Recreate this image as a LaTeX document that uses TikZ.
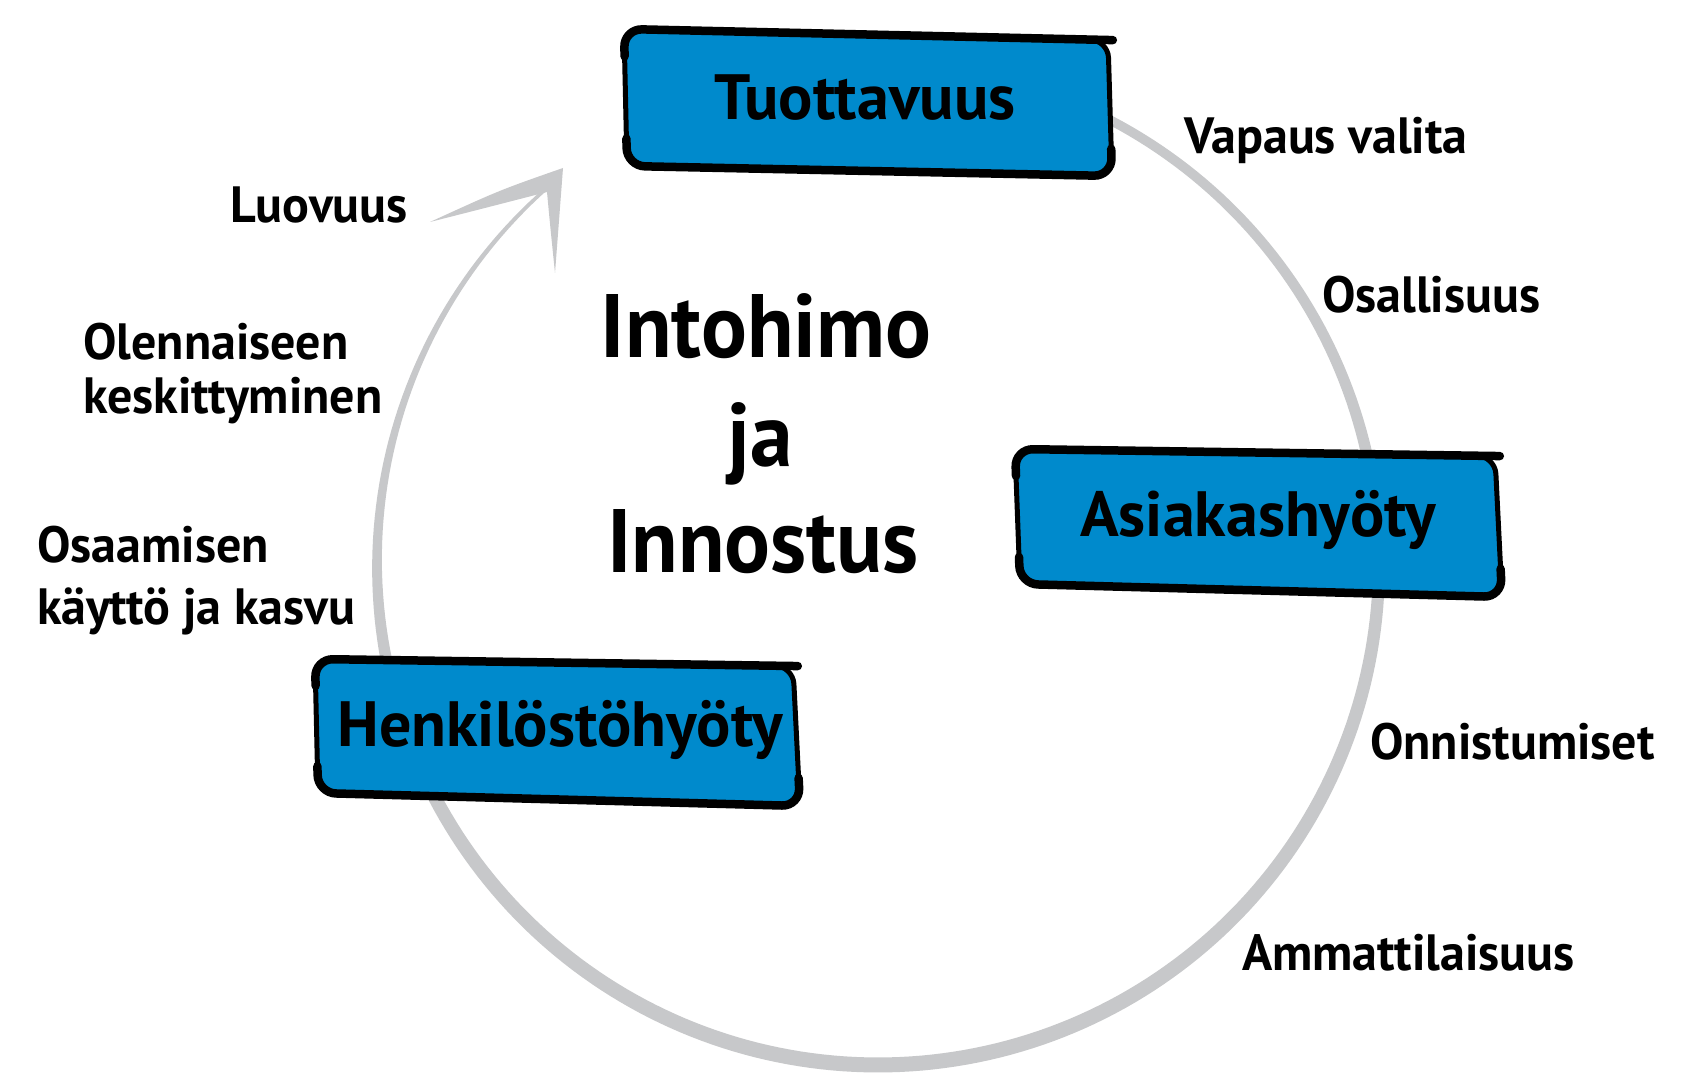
\documentclass[tikz,border=0pt]{standalone}
\usepackage{fontspec}
\newfontfamily\lab{PT Sans}[FakeStretch=0.98]
\newfontfamily\labbox{PT Sans}[FakeStretch=1.0]
\newfontfamily\labbig{PT Sans}[FakeStretch=0.95]
\usetikzlibrary{calc}
\definecolor{boxblue}{RGB}{0,138,204}
\definecolor{ringgray}{RGB}{199,200,202}
\tikzset{
  lbl/.style={font=\lab\bfseries\fontsize{51}{51}\selectfont, inner sep=0pt, anchor=base west},
  boxtxt/.style={font=\labbox\bfseries\fontsize{64}{64}\selectfont, inner sep=0pt, anchor=base},
  bigtxt/.style={font=\labbig\bfseries\fontsize{90}{90}\selectfont, inner sep=0pt, anchor=base},
  boxbody/.style={fill=boxblue, draw=black, line width=5pt, rounded corners=18pt},
  brush/.style={draw=black, line width=8.5pt, rounded corners=18pt, line cap=round},
  ringfill/.style={fill=ringgray},
}
\newcommand\skbox[4]{%
  \path[boxbody] #1 -- #2 -- #3 -- #4 -- cycle;
  \path[brush] ($#4!0.8!#1$) -- #1 -- ($#1!1.01!#2$);
  \path[brush] ($#1!0.8!#4$) -- #4 -- #3 -- ($#3!0.2!#2$);
}
\begin{document}
\begin{tikzpicture}[x=1pt,y=1pt,
  declare function={rw(\t)=(12+3*cos(\t+90))*min(1,0.35+0.65*(\t+228.5)/68.5);}]
\useasboundingbox (0,0) rectangle (1699,1074);
\fill[white] (0,0) rectangle (1699,1074);
% ring (tapering towards the arrow end)
\coordinate (C) at (878,510);
\fill[ringfill]
  plot[domain=75:-228.5,samples=240,variable=\t]
    ({878+(501+rw(\t)/2)*cos(\t)},{510+(501+rw(\t)/2)*sin(\t)})
  -- plot[domain=-228.5:75,samples=240,variable=\t]
    ({878+(501-rw(\t)/2)*cos(\t)},{510+(501-rw(\t)/2)*sin(\t)})
  -- cycle;
% arrowhead
\coordinate (tip) at (563,906);
\coordinate (barbL) at (430,852);
\coordinate (notch) at (547,882);
\coordinate (barbB) at (555,801);
\fill[ringfill] (tip) .. controls (500,884) .. (barbL) .. controls (485,866) .. (notch)
  .. controls (550,850) .. (barbB) -- cycle;
% boxes
\skbox{(624,1045)}{(1108,1034)}{(1112,898)}{(627,908)}
\skbox{(1015,625)}{(1495,618)}{(1502,477)}{(1020,490)}
\skbox{(315,415)}{(793,408)}{(800,268)}{(318,281)}
% box texts
\node[boxtxt] (tuo) at (865,954) {Tuottavuus};
\node[boxtxt] (asi) at (1258,537) {Asiakashyöty};
\node[boxtxt] (hen) at (560,327) {Henkilöstöhyöty};
% centre
\node[bigtxt] (into) at (766,716) {Intohimo};
\node[bigtxt] (ja) at (760,607) {ja};
\node[bigtxt] (inno) at (763,501) {Innostus};
% labels
\node[lbl] (vap) at (1184,920) {Vapaus valita};
\node[lbl] (osal) at (1322,761) {Osallisuus};
\node[lbl] (onn) at (1370,314) {Onnistumiset};
\node[lbl] (amm) at (1242,104) {Ammattilaisuus};
\node[lbl] (luo) at (230,851) {Luovuus};
\node[lbl] (ole1) at (83,714) {Olennaiseen};
\node[lbl] (ole2) at (83,660) {keskittyminen};
\node[lbl] (osa1) at (37,511) {Osaamisen};
\node[lbl] (osa2) at (37,449) {käyttö ja kasvu};
\end{tikzpicture}
\end{document}
